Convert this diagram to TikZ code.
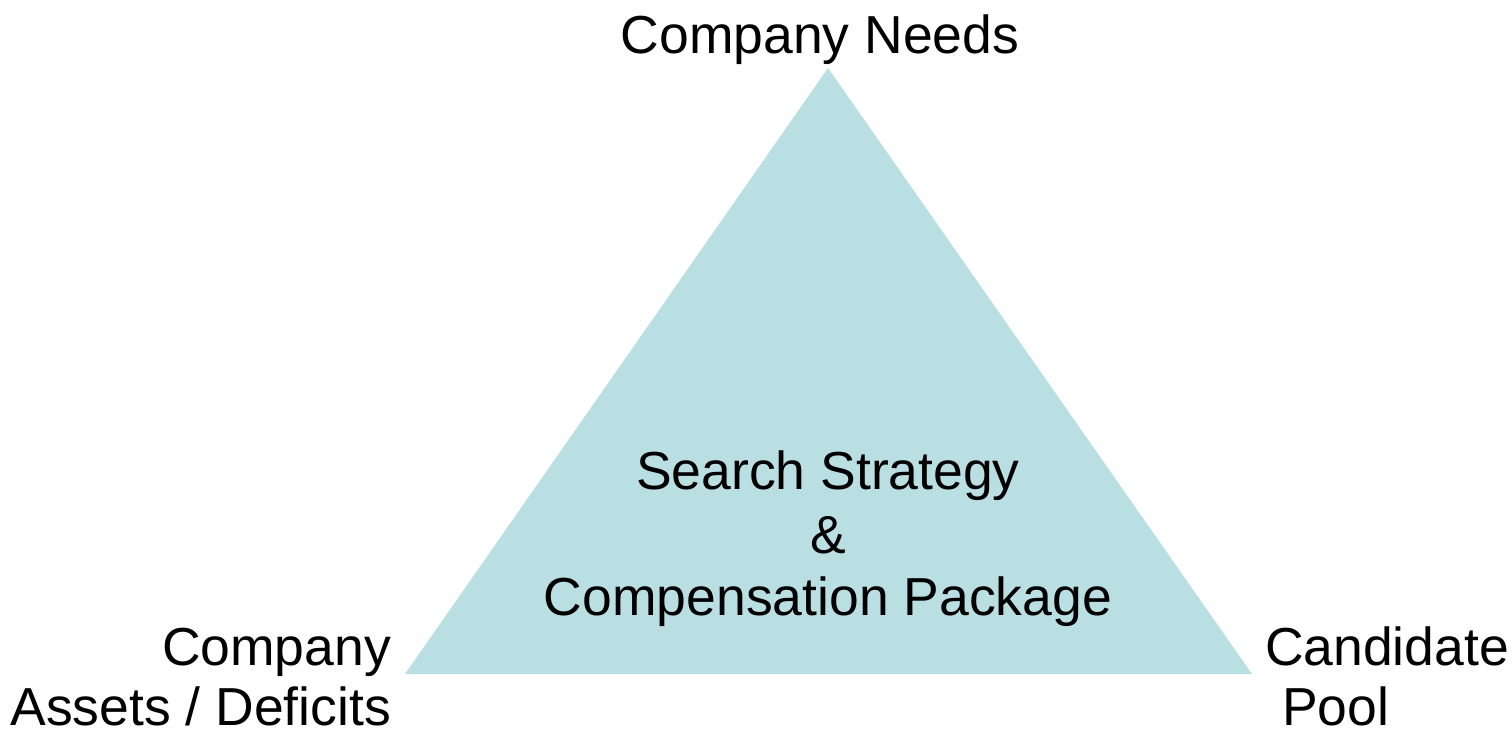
\documentclass[tikz,border=0pt]{standalone}
\usepackage{fontspec}
\setmainfont{Liberation Sans}
\definecolor{tri}{HTML}{BADFE3}
\begin{document}
\begin{tikzpicture}[x=1pt,y=-1pt,
  lbl/.style={inner sep=0pt,outer sep=0pt,font=\fontsize{53.5}{62}\selectfont,text=black}]
\useasboundingbox (0,0) rectangle (1512,728);
\coordinate (top) at (828,68);
\coordinate (bl) at (405,674);
\coordinate (br) at (1252,674);
\fill[tri] (top) -- (bl) -- (br) -- cycle;
\node[lbl,anchor=base] (needs) at (820,53) {Company Needs};
\node[lbl,anchor=base] (c1) at (828,489) {Search Strategy};
\node[lbl,anchor=base] (c2) at (828,553) {\&};
\node[lbl,anchor=base] (c3) at (828,615) {Compensation Package};
\node[lbl,anchor=base east] (l1) at (391,665) {Company};
\node[lbl,anchor=base east] (l2) at (391,725) {Assets / Deficits};
\node[lbl,anchor=base west] (r1) at (1265,665) {Candidate};
\node[lbl,anchor=base west] (r2) at (1282,725) {Pool};
\end{tikzpicture}
\end{document}
